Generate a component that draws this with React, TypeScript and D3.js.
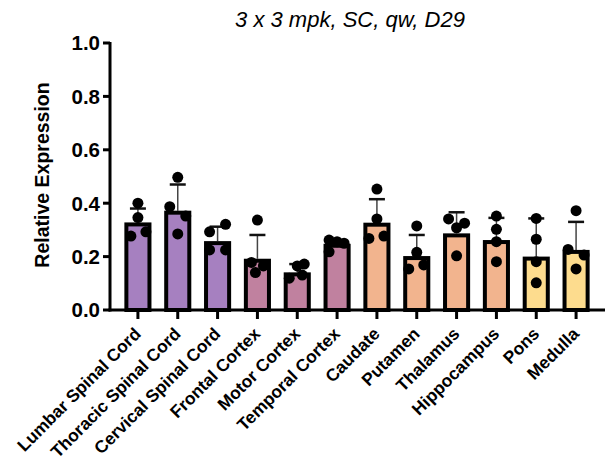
import React from "react";
import * as d3 from "d3";

const categories = [
  "Lumbar Spinal Cord", "Thoracic Spinal Cord", "Cervical Spinal Cord",
  "Frontal Cortex", "Motor Cortex", "Temporal Cortex",
  "Caudate", "Putamen", "Thalamus", "Hippocampus", "Pons", "Medulla",
];
const means = [0.328, 0.372, 0.258, 0.192, 0.141, 0.248, 0.327, 0.202, 0.287, 0.262, 0.2, 0.225];
const upperErr = [0.38, 0.47, 0.312, 0.281, 0.172, 0.26, 0.415, 0.281, 0.366, 0.345, 0.343, 0.33];
const points: number[][] = [
  [0.40, 0.346, 0.277, 0.293],
  [0.497, 0.387, 0.352, 0.285],
  [0.321, 0.293, 0.225, 0.225],
  [0.337, 0.178, 0.165, 0.14],
  [0.119, 0.165, 0.172, 0.131],
  [0.262, 0.256, 0.25, 0.218],
  [0.453, 0.341, 0.268, 0.277],
  [0.315, 0.216, 0.154, 0.169],
  [0.341, 0.325, 0.308, 0.203],
  [0.352, 0.302, 0.256, 0.181],
  [0.343, 0.265, 0.181, 0.102],
  [0.372, 0.227, 0.206, 0.154],
];
const pointOffsets = [
  [0, 0, -7, 8],
  [0, -8, 8, 0],
  [8, -8, -8, 8],
  [0, -6, 6, -2],
  [-8, 0, 7, 5],
  [-8, 0, 7, -8],
  [0, 0, -8, 7],
  [0, 0, -8, 7],
  [-8, 8, 0, 0],
  [0, 0, 0, 0],
  [0, 0, 0, 0],
  [0, -8, 8, 0],
];
const groupColors = ["#A680C0", "#A680C0", "#A680C0", "#C0819F", "#C0819F", "#C0819F",
  "#F2B48E", "#F2B48E", "#F2B48E", "#F2B48E", "#FDDC8E", "#FDDC8E"];
const yTicks = [0, 0.2, 0.4, 0.6, 0.8, 1.0];

export default function App() {
  const W = 605, H = 466;
  const y = d3.scaleLinear().domain([0, 1]).range([310, 43]);
  const x = d3.scaleBand<string>().domain(categories).range([118, 596]).paddingInner(0.32).paddingOuter(0.16);
  const font = "'Liberation Sans', Arial, sans-serif";
  const bw = x.bandwidth();
  const sw = 4;
  return (
    <svg width={W} height={H} style={{ position: "absolute", left: 0, top: 0 }} fontFamily={font}>
      <rect width={W} height={H} fill="#fff" />
      <text x={350} y={27} textAnchor="middle" fontSize={22} fontStyle="italic">3 x 3 mpk, SC, qw, D29</text>
      {/* error bars */}
      {categories.map((c, i) => {
        const cx = x(c)! + bw / 2;
        return (
          <g key={"e" + i}>
            <line x1={cx} x2={cx} y1={y(means[i])} y2={y(upperErr[i])} stroke="#444" strokeWidth={1.5} />
            <line x1={cx - 8} x2={cx + 8} y1={y(upperErr[i])} y2={y(upperErr[i])} stroke="#111" strokeWidth={2.5} />
          </g>
        );
      })}
      {/* bars */}
      {categories.map((c, i) => (
        <rect key={"b" + i} x={x(c)! + sw / 2} width={bw - sw} y={y(means[i]) + sw / 2}
          height={y(0) - y(means[i]) - sw / 2}
          fill={groupColors[i]} stroke="#000" strokeWidth={sw} />
      ))}
      {/* points */}
      {categories.map((c, i) => {
        const cx = x(c)! + bw / 2;
        return points[i].map((v, j) => (
          <circle key={"p" + i + "-" + j} cx={cx + pointOffsets[i][j]} cy={y(v)} r={5.5} fill="#000" />
        ));
      })}
      {/* y axis */}
      <line x1={110} x2={110} y1={y(1) - 1} y2={y(0) + 1.5} stroke="#000" strokeWidth={3} />
      {yTicks.map((t) => (
        <g key={"t" + t}>
          <line x1={103} x2={110} y1={y(t)} y2={y(t)} stroke="#000" strokeWidth={3} />
          <text x={100} y={y(t)} dy="0.36em" textAnchor="end" fontSize={20.5} fontWeight="bold">{t.toFixed(1)}</text>
        </g>
      ))}
      <text transform={`translate(49,175) rotate(-90)`} textAnchor="middle" fontSize={19.5} fontWeight="bold">Relative Expression</text>
      {/* x axis */}
      <line x1={108.5} x2={605} y1={310} y2={310} stroke="#000" strokeWidth={3} />
      {categories.map((c, i) => {
        const cx = x(c)! + bw / 2;
        return (
          <g key={"x" + i}>
            <line x1={cx} x2={cx} y1={310} y2={319} stroke="#000" strokeWidth={3} />
            <text transform={`translate(${cx + 4},${335}) rotate(-45)`} textAnchor="end" fontSize={17.4} fontWeight="bold">{c}</text>
          </g>
        );
      })}
    </svg>
  );
}
